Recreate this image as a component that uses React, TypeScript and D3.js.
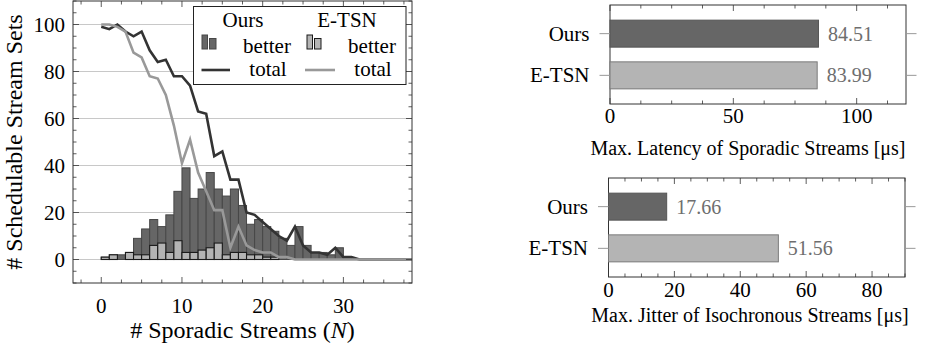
import React from 'react';
import * as d3 from 'd3';

// number of sporadic streams (N)
const streams = [0, 1, 2, 3, 4, 5, 6, 7, 8, 9, 10, 11, 12, 13, 14, 15, 16, 17, 18, 19,
  20, 21, 22, 23, 24, 25, 26, 27, 28, 29, 30, 31, 32, 33, 34, 35, 36, 37, 38, 39, 40];

const oursTotal = [99, 98, 100, 97, 95, 97, 89, 84, 85, 78, 78, 74, 63, 62, 44, 46, 34, 34, 20, 19,
  16, 13, 10, 8, 14, 6, 3, 3, 2, 5, 1, 1, 0, 0, 0, 0, 0, 0, 0, 0, 0];
const etsnTotal = [100, 100, 99, 97, 88, 86, 78, 77, 70, 57, 41, 51, 37, 29, 21, 21, 5, 14, 6, 4,
  3, 3, 1, 1, 0, 0, 0, 0, 0, 0, 0, 0, 0, 0, 0, 0, 0, 0, 0, 0, 0];
const oursBetter = [1, 2, 2, 3, 9, 13, 17, 14, 19, 29, 39, 26, 30, 37, 30, 27, 30, 23, 15, 17,
  14, 12, 9, 6, 14, 6, 3, 3, 2, 5, 1, 0, 0, 0, 0, 0, 0, 0, 0, 0, 0];
const etsnBetter = [1, 2, 0, 3, 2, 2, 6, 7, 3, 8, 3, 3, 4, 5, 7, 2, 3, 3, 2, 2,
  1, 1, 0, 0, 0, 0, 0, 0, 0, 0, 0, 0, 0, 0, 0, 0, 0, 0, 0, 0, 0];

const xTicks = [0, 10, 20, 30];
const yTicks = [0, 20, 40, 60, 80, 100];

// right-hand bar charts
const methods = ['Ours', 'E-TSN'];
const latency = [84.51, 83.99];
const jitter = [17.66, 51.56];
const latencyTicks = [0, 50, 100];
const jitterTicks = [0, 20, 40, 60, 80];

const FONT = '"Liberation Serif", "Times New Roman", serif';
const DARK = '#666666';
const LIGHT = '#b4b4b4';
const AXIS = '#333333';

function HBarChart(props: {
  values: number[]; ticks: number[]; max: number; minorStep: number;
  left: number; right: number; top: number; bottom: number;
  tickBase: number; title: string; titleX: number; titleBase: number; id: string;
}) {
  const { values, ticks, max, minorStep, left, right, top, bottom } = props;
  const x = d3.scaleLinear().domain([0, max]).range([left, right]);
  const y = d3.scalePoint<string>().domain(methods).range([top, bottom]).padding(0.687);
  const barH = 27;
  const minor = d3.range(0, max + 0.001, minorStep).filter(v => !ticks.includes(v));
  return (
    <g>
      <rect x={left} y={top} width={right - left} height={bottom - top} fill="white" stroke={AXIS} strokeWidth={1} />
      {values.map((v, i) => (
        <rect key={methods[i]} x={x(0)} y={y(methods[i])! - barH / 2} width={x(v) - x(0)} height={barH}
          fill={i === 0 ? DARK : LIGHT} stroke={i === 0 ? '#555' : '#7a7a7a'} strokeWidth={1} />
      ))}
      {minor.map(v => (
        <g key={'m' + v} stroke={AXIS} strokeWidth={0.8}>
          <line x1={x(v)} x2={x(v)} y1={bottom} y2={bottom - 3.5} />
          <line x1={x(v)} x2={x(v)} y1={top} y2={top + 3.5} />
        </g>
      ))}
      {ticks.map(v => (
        <g key={'t' + v}>
          <line x1={x(v)} x2={x(v)} y1={bottom} y2={bottom - 6} stroke={AXIS} strokeWidth={0.8} />
          <line x1={x(v)} x2={x(v)} y1={top} y2={top + 6} stroke={AXIS} strokeWidth={0.8} />
          <text x={x(v)} y={props.tickBase} textAnchor="middle" fontSize={21} fontFamily={FONT}>{v}</text>
        </g>
      ))}
      {methods.map(m => (
        <g key={m}>
          <line x1={left - 10.5} x2={left} y1={y(m)} y2={y(m)} stroke="#999" strokeWidth={1} />
          <line x1={right} x2={right + 10.5} y1={y(m)} y2={y(m)} stroke="#999" strokeWidth={1} />
          <text x={left - 20.5} y={y(m)! + 7} textAnchor="end" fontSize={21} fontFamily={FONT}>{m}</text>
        </g>
      ))}
      {values.map((v, i) => (
        <text key={'v' + i} x={x(v) + 9.5} y={y(methods[i])! + 7} fontSize={20} fontFamily={FONT} fill="#6e6e6e">
          {v.toFixed(2)}
        </text>
      ))}
      <text x={props.titleX} y={props.titleBase} textAnchor="middle" fontSize={20} fontFamily={FONT}>{props.title}</text>
    </g>
  );
}

export default function App() {
  const L = { left: 73, right: 412, top: 1, bottom: 283 };
  const x = d3.scaleLinear().domain([-3.5, 38.5]).range([L.left, L.right]);
  const y = d3.scaleLinear().domain([-10, 110]).range([L.bottom, L.top]);

  const line = d3.line<number>().x((_, i) => x(streams[i])).y(d => y(d));
  const xMinor = d3.range(-2.5, 38.5, 2.5).filter(v => !xTicks.includes(v));
  const yMinor = d3.range(-10, 110.01, 5).filter(v => !yTicks.includes(v));
  const bw = x(1) - x(0);

  return (
    <svg width={932} height={345} style={{ position: 'absolute', left: 0, top: 0, background: 'white' }}
      fontFamily={FONT}>
      <defs>
        <clipPath id="plotclip">
          <rect x={L.left} y={L.top} width={L.right - L.left} height={L.bottom - L.top} />
        </clipPath>
      </defs>

      {/* left: schedulable stream sets */}
      <rect x={L.left} y={L.top} width={L.right - L.left} height={L.bottom - L.top} fill="white" />
      {yTicks.map(v => (
        <line key={'g' + v} x1={L.left} x2={L.right} y1={y(v)} y2={y(v)} stroke="#c8c8c8" strokeWidth={1} />
      ))}
      <g clipPath="url(#plotclip)">
        {oursBetter.map((v, i) => (
          <rect key={'ob' + i} x={x(streams[i])} y={y(v)} width={bw} height={y(0) - y(v)}
            fill={DARK} stroke="#474747" strokeWidth={1} />
        ))}
        {etsnBetter.map((v, i) => (
          <rect key={'eb' + i} x={x(streams[i])} y={y(v)} width={bw} height={y(0) - y(v)}
            fill={LIGHT} stroke="#1a1a1a" strokeWidth={1.1} />
        ))}
        <path d={line(oursTotal)!} fill="none" stroke="#333333" strokeWidth={2.6} strokeLinejoin="miter" />
        <path d={line(etsnTotal)!} fill="none" stroke="#999999" strokeWidth={2.6} strokeLinejoin="miter" />
      </g>
      <rect x={L.left} y={L.top} width={L.right - L.left} height={L.bottom - L.top} fill="none" stroke={AXIS} strokeWidth={1} />
      {xMinor.map(v => (
        <g key={'xm' + v} stroke={AXIS} strokeWidth={0.8}>
          <line x1={x(v)} x2={x(v)} y1={L.bottom} y2={L.bottom - 3.5} />
          <line x1={x(v)} x2={x(v)} y1={L.top} y2={L.top + 3.5} />
        </g>
      ))}
      {xTicks.map(v => (
        <g key={'xt' + v}>
          <line x1={x(v)} x2={x(v)} y1={L.bottom} y2={L.bottom - 6} stroke={AXIS} strokeWidth={0.8} />
          <line x1={x(v)} x2={x(v)} y1={L.top} y2={L.top + 6} stroke={AXIS} strokeWidth={0.8} />
          <text x={x(v)} y={313} textAnchor="middle" fontSize={21}>{v}</text>
        </g>
      ))}
      {yMinor.map(v => (
        <g key={'ym' + v} stroke={AXIS} strokeWidth={0.8}>
          <line x1={L.left} x2={L.left + 3.5} y1={y(v)} y2={y(v)} />
          <line x1={L.right} x2={L.right - 3.5} y1={y(v)} y2={y(v)} />
        </g>
      ))}
      {yTicks.map(v => (
        <g key={'yt' + v}>
          <line x1={L.left} x2={L.left + 6} y1={y(v)} y2={y(v)} stroke={AXIS} strokeWidth={0.8} />
          <line x1={L.right} x2={L.right - 6} y1={y(v)} y2={y(v)} stroke={AXIS} strokeWidth={0.8} />
          <text x={65} y={y(v) + 7} textAnchor="end" fontSize={21}>{v}</text>
        </g>
      ))}
      <text x={(L.left + L.right) / 2} y={338} textAnchor="middle" fontSize={24}>
        # Sporadic Streams (<tspan fontStyle="italic">N</tspan>)
      </text>
      <text transform={`translate(22,${(L.top + L.bottom) / 2}) rotate(-90)`} textAnchor="middle" fontSize={24}>
        # Schedulable Stream Sets
      </text>

      {/* legend */}
      <g>
        <rect x={193.5} y={6.5} width={212.5} height={78} fill="white" stroke="#222" strokeWidth={1} />
        <text x={243} y={27} textAnchor="middle" fontSize={21}>Ours</text>
        <text x={347} y={27} textAnchor="middle" fontSize={21}>E-TSN</text>
        <rect x={202} y={35} width={5.5} height={14} fill={DARK} stroke="#474747" strokeWidth={1} />
        <rect x={209.5} y={38.5} width={6.5} height={10.5} fill={DARK} stroke="#474747" strokeWidth={1} />
        <rect x={307} y={35} width={5.5} height={14} fill={LIGHT} stroke="#1a1a1a" strokeWidth={1} />
        <rect x={314.5} y={38.5} width={6.5} height={10.5} fill={LIGHT} stroke="#1a1a1a" strokeWidth={1} />
        <text x={267} y={53} textAnchor="middle" fontSize={21}>better</text>
        <text x={372} y={53} textAnchor="middle" fontSize={21}>better</text>
        <line x1={201.5} x2={230} y1={70} y2={70} stroke="#333" strokeWidth={2.6} />
        <line x1={305} x2={335} y1={70} y2={70} stroke="#999" strokeWidth={2.6} />
        <text x={268} y={76} textAnchor="middle" fontSize={21}>total</text>
        <text x={373} y={76} textAnchor="middle" fontSize={21}>total</text>
      </g>

      {/* right: latency and jitter */}
      <HBarChart id="lat" values={latency} ticks={latencyTicks} max={120} minorStep={12.5}
        left={610} right={906} top={5} bottom={104} tickBase={123}
        title="Max. Latency of Sporadic Streams [μs]" titleX={748} titleBase={155} />
      <HBarChart id="jit" values={jitter} ticks={jitterTicks} max={90} minorStep={5}
        left={608.5} right={905} top={178} bottom={277} tickBase={297}
        title="Max. Jitter of Isochronous Streams [μs]" titleX={750} titleBase={322} />
    </svg>
  );
}
